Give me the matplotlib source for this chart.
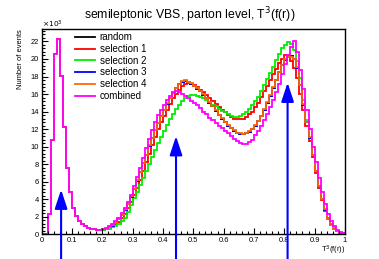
import numpy as np
import matplotlib.pyplot as plt
from matplotlib.ticker import MultipleLocator

plt.rcParams['font.family'] = ['Liberation Sans', 'DejaVu Sans']

# bin edges: 100 bins from 0 to 1
edges = np.linspace(0, 1, 101)

# common low-T3 peak (bins 0-19)
head = [0, 0, 2.3, 10.7, 20.6, 22.3, 18.1, 12.2, 7.6, 4.8,
        3.0, 2.1, 1.5, 1.15, 0.9, 0.75, 0.62, 0.55, 0.5, 0.5]

random_ = head + [0.55, 0.65, 0.8, 1.0, 1.3, 1.7, 2.2, 2.8, 3.5, 4.3,
                  5.2, 6.1, 7.1, 8.1, 9.1, 10.1, 11.0, 11.9, 12.7, 13.5,
                  14.2, 14.9, 15.6, 16.2, 16.7, 17.1, 17.4, 17.5, 17.4, 17.2,
                  16.9, 16.6, 16.3, 15.9, 15.5, 15.0, 14.6, 14.1, 13.6, 13.2,
                  12.8, 12.4, 12.1, 11.8, 11.6, 11.45, 11.4, 11.5, 11.7, 12.0,
                  12.4, 12.9, 13.5, 14.2, 15.0, 15.8, 16.7, 17.6, 18.5, 19.3,
                  19.9, 20.2, 20.3, 20.0, 19.0, 17.0, 14.8, 12.8, 11.0, 9.0,
                  7.2, 5.5, 4.0, 2.8, 1.9, 1.2, 0.7, 0.4, 0.2, 0.1]

sel1 = head + [0.52, 0.6, 0.72, 0.9, 1.15, 1.45, 1.85, 2.35, 2.95, 3.65,
               4.5, 5.3, 6.2, 7.2, 8.2, 9.2, 10.2, 11.1, 12.0, 12.8,
               13.5, 14.2, 14.9, 15.5, 16.0, 16.5, 16.9, 17.1, 17.3, 17.2,
               17.0, 16.8, 16.5, 16.2, 15.9, 15.6, 15.2, 14.9, 14.5, 14.2,
               13.9, 13.6, 13.4, 13.2, 13.1, 13.1, 13.2, 13.4, 13.7, 14.0,
               14.5, 15.0, 15.7, 16.3, 16.9, 17.6, 18.3, 18.9, 19.5, 20.0,
               20.5, 20.4, 19.8, 19.0, 17.8, 16.0, 14.2, 12.4, 10.6, 8.8,
               7.0, 5.3, 3.9, 2.7, 1.8, 1.1, 0.65, 0.35, 0.18, 0.08]

sel2 = head + [0.5, 0.55, 0.65, 0.78, 0.95, 1.2, 1.5, 1.9, 2.5, 3.3,
               4.1, 4.8, 5.6, 6.4, 7.2, 8.0, 8.8, 9.6, 10.4, 11.1,
               11.8, 12.5, 13.1, 13.7, 14.3, 14.8, 15.2, 15.5, 15.8, 15.9,
               15.9, 15.8, 15.7, 15.5, 15.3, 15.1, 14.8, 14.6, 14.3, 14.1,
               13.9, 13.7, 13.5, 13.4, 13.4, 13.5, 13.7, 14.0, 14.3, 14.7,
               15.2, 15.7, 16.3, 17.0, 17.7, 18.4, 19.1, 19.9, 20.6, 21.2,
               21.6, 21.9, 21.7, 21.0, 19.8, 17.8, 15.3, 13.0, 11.0, 9.0,
               7.2, 5.5, 4.0, 2.8, 1.8, 1.1, 0.65, 0.35, 0.18, 0.08]

sel3 = list(random_)

sel4 = head + [0.55, 0.66, 0.8, 1.02, 1.3, 1.72, 2.2, 2.85, 3.5, 4.35,
               5.2, 6.15, 7.1, 8.15, 9.1, 10.15, 11.0, 11.95, 12.7, 13.55,
               14.2, 14.95, 15.6, 16.25, 16.7, 17.15, 17.45, 17.55, 17.4, 17.25,
               16.9, 16.65, 16.3, 15.95, 15.5, 15.05, 14.6, 14.15, 13.6, 13.25,
               12.8, 12.45, 12.1, 11.85, 11.6, 11.5, 11.45, 11.55, 11.75, 12.05,
               12.45, 12.95, 13.55, 14.25, 15.05, 15.85, 16.75, 17.65, 18.55, 19.35,
               19.95, 20.25, 20.2, 19.95, 19.05, 17.05, 14.85, 12.85, 11.05, 9.05,
               7.25, 5.55, 4.05, 2.85, 1.9, 1.2, 0.7, 0.4, 0.2, 0.1]

combined = head + [0.6, 0.72, 0.9, 1.15, 1.5, 1.9, 2.4, 3.0, 3.7, 4.5,
                   5.5, 6.5, 7.6, 8.7, 9.8, 10.9, 11.9, 12.8, 13.6, 14.2,
                   14.8, 15.3, 15.8, 16.1, 16.3, 16.2, 16.0, 15.8, 15.5, 15.2,
                   15.0, 14.7, 14.4, 14.0, 13.7, 13.3, 13.0, 12.7, 12.4, 12.1,
                   11.8, 11.5, 11.2, 10.9, 10.6, 10.4, 10.3, 10.35, 10.5, 10.8,
                   11.3, 11.8, 12.4, 13.0, 13.7, 14.5, 15.3, 16.2, 17.2, 18.3,
                   19.4, 20.5, 21.4, 22.1, 20.8, 18.7, 16.6, 14.2, 12.0, 10.0,
                   8.2, 6.4, 4.8, 3.4, 2.3, 1.5, 0.9, 0.5, 0.25, 0.1]

labels = ["random", "selection 1", "selection 2", "selection 3", "selection 4", "combined"]
colors = ["black", "#ff0000", "#00ee00", "#0000ff", "#ff6a00", "#ff00ff"]
series = [random_, sel1, sel2, sel3, sel4, combined]

# cut arrows: x position and tip height
arrow_x = [0.064, 0.443, 0.811]
arrow_tip = [5.1, 11.2, 17.3]

fig = plt.figure(figsize=(3.79, 2.59), dpi=100)
ax = fig.add_axes([0.110, 0.0954, 0.800, 0.792])

for vals, c, lab in zip(series, colors, labels):
    ax.stairs(vals, edges, color=c, lw=1.3, label=lab)

for xa, ya in zip(arrow_x, arrow_tip):
    ax.annotate("", xy=(xa, ya), xytext=(xa, -4.0), annotation_clip=False,
                arrowprops=dict(arrowstyle="-|>,head_length=1.15,head_width=0.38",
                                color="#0000ff", lw=1.5, mutation_scale=10,
                                shrinkA=0, shrinkB=0))

ax.set_xlim(0, 1)
ax.set_ylim(0, 23.4)
ax.xaxis.set_major_locator(MultipleLocator(0.1))
ax.xaxis.set_minor_locator(MultipleLocator(0.02))
ax.yaxis.set_major_locator(MultipleLocator(2))
ax.yaxis.set_minor_locator(MultipleLocator(0.4))
ax.xaxis.set_major_formatter(plt.FuncFormatter(lambda v, p: "%g" % round(v, 2)))
ax.tick_params(which="both", direction="in", top=False, right=False,
               labelsize=5.4, pad=2, width=0.8)
ax.tick_params(which="major", length=4)
ax.tick_params(which="minor", length=2)
for s in ax.spines.values():
    s.set_linewidth(1.0)

ax.legend(loc="upper left", bbox_to_anchor=(0.11, 0.985), frameon=False,
          fontsize=7, handlelength=2.1, handletextpad=0.45, labelspacing=0.18,
          borderaxespad=0, borderpad=0)

fig.text(0.5, 0.94, "semileptonic VBS, parton level, T$^3$(f(r))",
         ha="center", va="center", fontsize=8.8)
fig.text(0.055, 0.887, "Number of events", rotation=90, ha="center", va="top",
         fontsize=5.4)
fig.text(0.110, 0.905, r"$\times10^3$", ha="left", va="center", fontsize=5.4)
fig.text(0.910, 0.035, "T$^3$(f(r))", ha="right", va="center", fontsize=5.4)

fig.savefig("out.png", dpi=100)
